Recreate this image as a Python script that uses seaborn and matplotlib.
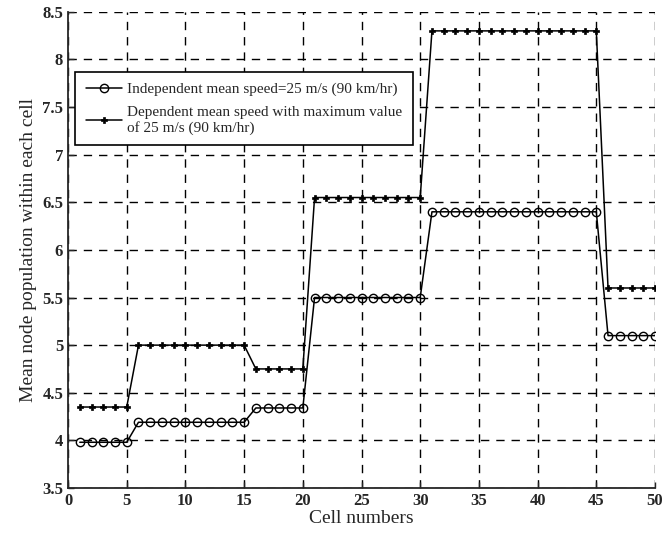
import numpy as np
import pandas as pd
import matplotlib
matplotlib.use("Agg")
import matplotlib.pyplot as plt
import seaborn as sns

# Cell numbers 1..50
cells = list(range(1, 51))

# Independent mean speed = 25 m/s (circles)
independent = [3.98] * 5 + [4.19] * 10 + [4.34] * 5 + [5.5] * 10 + [6.4] * 15 + [5.1] * 5

# Dependent mean speed with maximum value of 25 m/s (plus markers)
dependent = [4.35] * 5 + [5.0] * 10 + [4.75] * 5 + [6.55] * 10 + [8.3] * 15 + [5.6] * 5

df = pd.DataFrame({"cell": cells, "indep": independent, "dep": dependent})

sns.set_style("ticks")
plt.rcParams["font.family"] = ["Liberation Serif", "DejaVu Serif"]
plt.rcParams["xtick.direction"] = "in"
plt.rcParams["ytick.direction"] = "in"

fig = plt.figure(figsize=(6.67, 5.38), dpi=100)
ax = fig.add_axes([0.102, 0.093, 0.880, 0.885])

sns.lineplot(data=df, x="cell", y="indep", ax=ax, color="black", lw=1.1,
             marker="o", markersize=6, markerfacecolor="none",
             markeredgecolor="black", markeredgewidth=1.0,
             label="Independent mean speed=25 m/s (90 km/hr)")
sns.lineplot(data=df, x="cell", y="dep", ax=ax, color="black", lw=1.1,
             marker="P", markersize=5, markerfacecolor="black",
             markeredgecolor="black", markeredgewidth=0.5,
             label="Dependent mean speed with maximum value\nof 25 m/s (90 km/hr)")

ax.set_xlim(0, 50)
ax.set_ylim(3.5, 8.5)
ax.set_xticks(np.arange(0, 51, 5))
ax.set_yticks(np.arange(3.5, 8.51, 0.5))
ax.set_yticklabels(["3.5", "4", "4.5", "5", "5.5", "6", "6.5", "7", "7.5", "8", "8.5"])
ax.tick_params(labelsize=12, length=4, width=1)
for lab in ax.get_xticklabels() + ax.get_yticklabels():
    lab.set_fontweight("bold")

ax.grid(True, color="black", linestyle=(0, (6, 5)), linewidth=1.0)
ax.spines["top"].set_visible(False)
ax.spines["right"].set_visible(False)
ax.spines["left"].set_linewidth(1.3)
ax.spines["bottom"].set_linewidth(1.3)

ax.set_xlabel("Cell numbers", fontsize=14, labelpad=1)
ax.set_ylabel("Mean node population within each cell", fontsize=14, labelpad=4)

leg = ax.legend(loc="upper left", bbox_to_anchor=(0.012, 0.874), fontsize=11,
                frameon=True, fancybox=False, edgecolor="black",
                handlelength=2.4, handletextpad=0.3, borderpad=0.7,
                labelspacing=0.6, framealpha=1, borderaxespad=0)
leg.get_frame().set_linewidth(1.2)

fig.savefig("out.png", dpi=100)
